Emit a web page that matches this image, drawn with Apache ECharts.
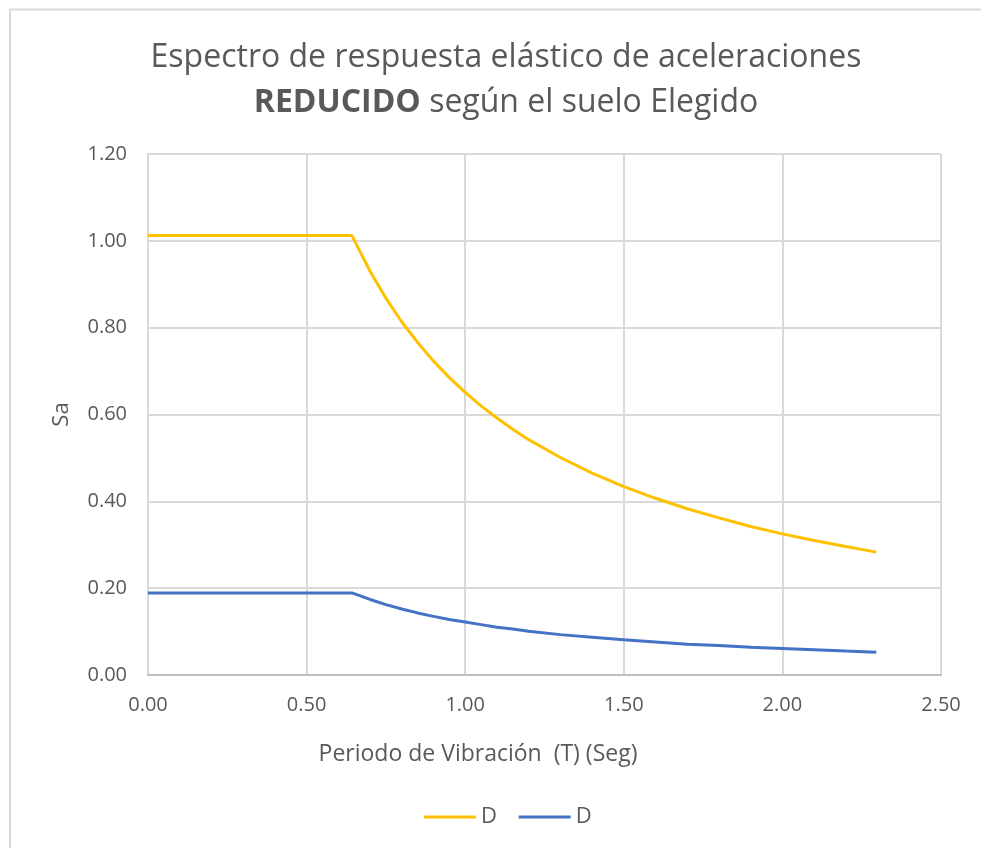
<!DOCTYPE html>
<html>
<head>
<meta charset="utf-8">
<script src="https://cdn.jsdelivr.net/npm/echarts@6/dist/echarts.min.js"></script>
<style>
  html, body { margin: 0; padding: 0; background: #fff; }
  #chart { width: 981px; height: 848px; }
</style>
</head>
<body>
<div id="chart"></div>
<script>
// Periods T (s) and reduced spectral accelerations Sa for both curves
const periods = [0, 0.643, 0.70, 0.75, 0.80, 0.85, 0.90, 0.95, 1.00, 1.05, 1.10, 1.15, 1.20,
  1.30, 1.40, 1.50, 1.60, 1.70, 1.80, 1.90, 2.00, 2.10, 2.20, 2.296];
const saUpper = [1.012, 1.012, 0.930, 0.868, 0.813, 0.766, 0.723, 0.685, 0.651, 0.620, 0.592,
  0.566, 0.542, 0.501, 0.465, 0.434, 0.407, 0.383, 0.362, 0.342, 0.325, 0.310, 0.296, 0.283];
const saLower = [0.189, 0.189, 0.174, 0.162, 0.152, 0.143, 0.135, 0.128, 0.122, 0.116, 0.110,
  0.106, 0.101, 0.093, 0.087, 0.081, 0.076, 0.071, 0.068, 0.064, 0.061, 0.058, 0.055, 0.0525];
const seriesNames = ['D', 'D'];
const seriesColors = ['#FFC000', '#4472C4'];

const toPairs = vals => periods.map((t, i) => [t, vals[i]]);
const txt = '#595959';
const font = '"Open Sans", "Noto Sans", sans-serif';

const chart = echarts.init(document.getElementById('chart'), null, { renderer: 'canvas' });
chart.setOption({
  animation: false,
  backgroundColor: '#ffffff',
  textStyle: { fontFamily: font },
  title: {
    text: 'Espectro de respuesta elástico de aceleraciones\n{b|REDUCIDO} según el suelo Elegido',
    left: 501,
    textAlign: 'center',
    top: 30,
    textStyle: {
      fontFamily: font,
      fontSize: 32,
      fontWeight: 'normal',
      color: txt,
      lineHeight: 45,
      rich: {
        b: { fontFamily: font, fontSize: 32, fontWeight: 'bold', color: txt, lineHeight: 45 }
      }
    }
  },
  legend: {
    top: 801,
    left: 419,
    itemWidth: 52,
    itemHeight: 3,
    itemGap: 16,
    icon: 'rect',
    textStyle: { fontFamily: font, fontSize: 22, color: txt },
    data: [
      { name: seriesNames[0] + ' ', itemStyle: { color: seriesColors[0] } },
      { name: seriesNames[1], itemStyle: { color: seriesColors[1] } }
    ]
  },
  grid: { left: 148, right: 40, top: 154, bottom: 173, containLabel: false },
  xAxis: {
    type: 'value',
    min: 0, max: 2.5, interval: 0.5,
    name: 'Periodo de Vibración  (T) (Seg)',
    nameLocation: 'middle',
    nameGap: 68,
    nameTextStyle: { fontFamily: font, fontSize: 23, color: txt, padding: [0, 133, 0, 0] },
    axisLine: { show: true, lineStyle: { color: '#bfbfbf', width: 2 } },
    axisTick: { show: false },
    axisLabel: { color: txt, fontSize: 20, fontFamily: font, margin: 20,
      formatter: v => v.toFixed(2) },
    splitLine: { show: true, lineStyle: { color: '#d9d9d9', width: 2 } }
  },
  yAxis: {
    type: 'value',
    min: 0, max: 1.2, interval: 0.2,
    name: 'Sa',
    nameLocation: 'middle',
    nameGap: 75,
    nameRotate: 90,
    nameTextStyle: { fontFamily: font, fontSize: 22, color: txt },
    axisLine: { show: true, lineStyle: { color: '#d9d9d9', width: 2 } },
    axisTick: { show: false },
    axisLabel: { color: txt, fontSize: 20, fontFamily: font, margin: 21,
      formatter: v => v.toFixed(2) },
    splitLine: { show: true, lineStyle: { color: '#d9d9d9', width: 2 } }
  },
  series: [
    {
      name: seriesNames[0] + ' ',
      type: 'line',
      data: toPairs(saUpper),
      showSymbol: false,
      smooth: false,
      lineStyle: { color: seriesColors[0], width: 3 },
      itemStyle: { color: seriesColors[0] }
    },
    {
      name: seriesNames[1],
      type: 'line',
      data: toPairs(saLower),
      showSymbol: false,
      smooth: false,
      lineStyle: { color: seriesColors[1], width: 3 },
      itemStyle: { color: seriesColors[1] }
    }
  ],
  graphic: [
    { type: 'line', shape: { x1: 9, y1: 9.5, x2: 981, y2: 9.5 }, style: { stroke: '#d9d9d9', lineWidth: 2 } },
    { type: 'line', shape: { x1: 10, y1: 9, x2: 10, y2: 848 }, style: { stroke: '#d9d9d9', lineWidth: 2 } }
  ]
});
</script>
</body>
</html>
